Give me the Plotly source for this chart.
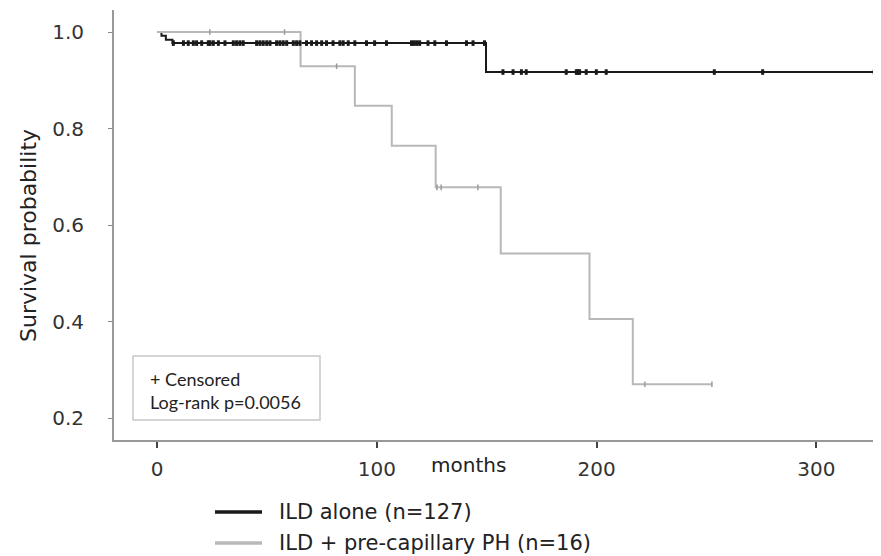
import plotly.graph_objects as go

# ---- data ----
# ILD alone: event step times (months) and survival after each step
ild_times = [0, 2, 4, 7, 149.7, 329]
ild_surv = [1.0, 0.992, 0.984, 0.977, 0.917, 0.917]
ild_censor = [7.4, 12, 14.2, 16.5, 18, 20.3, 23.3, 24.1, 25.6, 27.9, 30.9, 34.7, 36.2,
              37.7, 39.2, 45.3, 46.8, 48.3, 49.9, 51.4, 54.4, 55.9, 57.4, 59, 62, 63.5,
              65, 68, 70.3, 72.6, 74.9, 77.1, 80.1, 83.2, 84.7, 87, 90, 95.3, 99, 104.4,
              115.8, 117, 118.2, 119.5, 123.3, 126.4, 131.7, 140.8, 143.8, 149,
              157.4, 162, 165.8, 168, 186.2, 190.8, 191.5, 192.3, 195.3, 199.9, 204.4,
              253.6, 275.6, 326.4]

# ILD + pre-capillary PH
ph_times = [0, 65.3, 90, 106.8, 126.8, 156.4, 196.8, 216.5, 252.5]
ph_surv = [1.0, 0.929, 0.847, 0.764, 0.678, 0.541, 0.405, 0.270, 0.270]
ph_censor = [24, 58, 81.7, 127.4, 129.3, 146, 222, 252.5]

x_ticks = [0, 100, 200, 300]
y_ticks = [0.2, 0.4, 0.6, 0.8, 1.0]

series_names = ["ILD alone (n=127)", "ILD + pre-capillary PH (n=16)"]


def surv_at(times, surv, t):
    s = surv[0]
    for ti, si in zip(times, surv):
        if ti <= t:
            s = si
    return s


BLACK = "#1a1a1a"
GRAY = "#b8b8b8"
FONT = "DejaVu Sans, Liberation Sans, Arial, sans-serif"

# the page body adds an 8px offset; geometry below is in screenshot pixels
OFF = 8
L, R, T, B = 114, 880, 10, 440
W, H = R - L, B - T
FW, FH = 881, 556


def px(x):
    return (x - L) / W


def py(y):
    return (B - y) / H


fig = go.Figure()
fig.add_trace(go.Scatter(x=ild_times, y=ild_surv, mode="lines", line_shape="hv",
                         line=dict(color=BLACK, width=2), name=series_names[0], showlegend=False))
fig.add_trace(go.Scatter(x=ph_times, y=ph_surv, mode="lines", line_shape="hv",
                         line=dict(color=GRAY, width=2), name=series_names[1], showlegend=False))
fig.add_trace(go.Scatter(x=ild_censor, y=[surv_at(ild_times, ild_surv, t) for t in ild_censor],
                         mode="markers", showlegend=False,
                         marker=dict(symbol="line-ns", size=4, line=dict(width=3, color=BLACK))))
fig.add_trace(go.Scatter(x=ph_censor, y=[surv_at(ph_times, ph_surv, t) for t in ph_censor],
                         mode="markers", showlegend=False,
                         marker=dict(symbol="line-ns", size=4, line=dict(width=1.5, color="#9a9a9a"))))

# info box
fig.add_shape(type="rect", xref="paper", yref="paper",
              x0=px(133), x1=px(320), y0=py(420), y1=py(356),
              line=dict(color="#c8c8c8", width=1.5), fillcolor="white", layer="above")
fig.add_annotation(xref="paper", yref="paper", x=px(148), y=py(390),
                   xanchor="left", yanchor="middle", align="left", showarrow=False,
                   text="+ Censored<br>Log-rank p=0.0056",
                   font=dict(family="Lato, Carlito, sans-serif", size=18, color="#222"))

# x-axis title inline with tick labels
fig.add_annotation(xref="x", yref="paper", x=141.8, y=0, yanchor="middle", yshift=-25,
                   showarrow=False, text="months",
                   font=dict(family=FONT, size=20, color="#222"))

# y-axis title
fig.add_annotation(xref="paper", yref="paper", x=px(28), y=py(236), xanchor="center",
                   yanchor="middle", textangle=-90, showarrow=False, text="Survival probability",
                   font=dict(family=FONT, size=22, color="#222"))

# legend (below the chart)
legend_colors = [BLACK, GRAY]
legend_rows = [512, 543]
for name, col, yy in zip(series_names, legend_colors, legend_rows):
    fig.add_shape(type="line", xref="paper", yref="paper", x0=px(215), x1=px(262),
                  y0=py(yy), y1=py(yy), line=dict(color=col, width=3.5))
    fig.add_annotation(xref="paper", yref="paper", x=px(277), y=py(yy), xanchor="left",
                       yanchor="middle", showarrow=False, text=name,
                       font=dict(family=FONT, size=21, color="#222"))

fig.update_layout(
    width=FW, height=FH,
    margin=dict(l=L - OFF, r=FW - (R - OFF), t=T - OFF, b=FH - (B - OFF), autoexpand=False),
    paper_bgcolor="white", plot_bgcolor="white",
    font=dict(family=FONT, size=20, color="#333"),
    showlegend=False,
)
fig.update_xaxes(range=[-19.6, 329], tickvals=x_ticks, ticktext=[str(v) for v in x_ticks],
                 showgrid=False, zeroline=False, showline=True, linecolor="#999", linewidth=2,
                 ticks="outside", ticklen=6, tickwidth=2, tickcolor="#444",
                 ticklabelstandoff=4, automargin=False)
fig.update_yaxes(range=[0.1544, 1.0456], tickvals=y_ticks, ticktext=[f"{v:.1f}" for v in y_ticks],
                 showgrid=False, zeroline=False, showline=True, linecolor="#999", linewidth=2,
                 ticks="outside", ticklen=4, tickwidth=1, tickcolor="#888",
                 ticklabelstandoff=20, automargin=False)

fig.write_html("out.html")
